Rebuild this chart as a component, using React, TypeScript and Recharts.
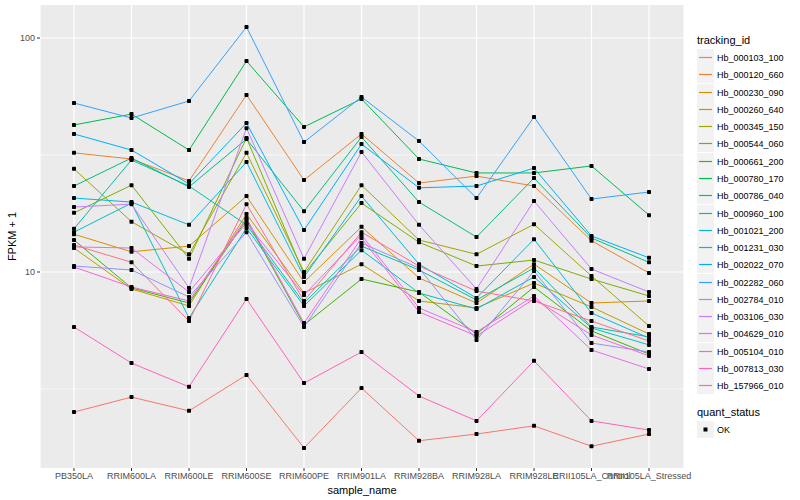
import React from "react";
import { LineChart, Line, XAxis, YAxis, CartesianGrid } from "recharts";

const samples = [
  "PB350LA",
  "RRIM600LA",
  "RRIM600LE",
  "RRIM600SE",
  "RRIM600PE",
  "RRIM901LA",
  "RRIM928BA",
  "RRIM928LA",
  "RRIM928LE",
  "RRII105LA_Control",
  "RRII105LA_Stressed",
];

// FPKM + 1, one array per tracking_id, in sample order
const hb000103_100 = [2.52, 2.92, 2.55, 3.63, 1.77, 3.19, 1.9, 2.03, 2.2, 1.8, 2.03];
const hb000120_660 = [32.3, 30.4, 24.5, 57.1, 24.7, 38.9, 24.0, 25.7, 23.3, 13.6, 9.9];
const hb000230_090 = [14.5, 12.2, 12.9, 21.1, 9.06, 15.6, 9.43, 7.37, 10.8, 7.37, 7.52];
const hb000260_640 = [12.66, 8.46, 7.16, 17.7, 8.13, 10.8, 7.52, 7.02, 8.97, 7.09, 5.43];
const hb000345_150 = [27.6, 16.4, 11.9, 32.3, 10.0, 23.5, 13.7, 11.9, 16.0, 9.61, 5.88];
const hb000544_060 = [17.9, 23.5, 11.4, 37.4, 9.8, 19.7, 13.4, 10.6, 11.25, 9.33, 7.9];
const hb000661_200 = [13.7, 8.55, 7.37, 16.7, 5.94, 9.33, 8.21, 5.43, 8.63, 5.6, 4.46];
const hb000780_170 = [42.5, 47.3, 33.2, 79.7, 41.7, 54.9, 30.4, 26.5, 26.5, 28.4, 17.5];
const hb000786_040 = [23.3, 30.7, 23.1, 37.0, 18.2, 37.75, 19.9, 14.1, 25.2, 13.97, 11.0];
const hb000960_100 = [15.3, 30.1, 23.3, 15.9, 7.37, 12.9, 10.2, 7.59, 10.4, 5.82, 5.28];
const hb001021_200 = [14.8, 19.7, 6.36, 15.4, 7.16, 12.4, 8.13, 6.95, 9.52, 5.76, 4.88];
const hb001231_030 = [20.7, 19.9, 15.9, 29.5, 9.52, 21.1, 10.8, 7.74, 13.8, 6.68, 5.22];
const hb002022_070 = [38.9, 33.2, 23.8, 43.3, 15.1, 35.2, 22.9, 23.3, 27.8, 14.25, 11.5];
const hb002282_060 = [52.75, 45.5, 53.8, 111.4, 35.9, 55.96, 36.3, 20.7, 45.97, 20.5, 21.97];
const hb002784_010 = [10.6, 10.2, 7.82, 14.8, 5.82, 13.3, 10.4, 5.12, 10.1, 4.97, 4.55];
const hb003106_030 = [18.95, 19.5, 8.55, 41.2, 11.4, 32.6, 15.9, 8.46, 20.1, 10.3, 8.21];
const hb004629_010 = [12.8, 12.66, 8.21, 16.2, 7.97, 14.4, 7.02, 5.54, 7.9, 4.64, 3.85];
const hb005104_010 = [10.5, 8.63, 7.52, 17.0, 6.05, 13.97, 6.75, 5.33, 7.67, 5.38, 4.38];
const hb007813_030 = [5.82, 4.08, 3.23, 7.67, 3.35, 4.55, 2.95, 2.31, 4.17, 2.31, 2.11];
const hb157966_010 = [13.04, 11.0, 6.17, 19.5, 7.52, 14.8, 10.6, 8.29, 7.52, 6.17, 5.07];

const series = [
  { id: "Hb_000103_100", color: "#F8766D", values: hb000103_100 },
  { id: "Hb_000120_660", color: "#EA8331", values: hb000120_660 },
  { id: "Hb_000230_090", color: "#D89000", values: hb000230_090 },
  { id: "Hb_000260_640", color: "#C09B00", values: hb000260_640 },
  { id: "Hb_000345_150", color: "#A3A500", values: hb000345_150 },
  { id: "Hb_000544_060", color: "#7CAE00", values: hb000544_060 },
  { id: "Hb_000661_200", color: "#39B600", values: hb000661_200 },
  { id: "Hb_000780_170", color: "#00BB4E", values: hb000780_170 },
  { id: "Hb_000786_040", color: "#00BF7D", values: hb000786_040 },
  { id: "Hb_000960_100", color: "#00C1A3", values: hb000960_100 },
  { id: "Hb_001021_200", color: "#00BFC4", values: hb001021_200 },
  { id: "Hb_001231_030", color: "#00BAE0", values: hb001231_030 },
  { id: "Hb_002022_070", color: "#00B0F6", values: hb002022_070 },
  { id: "Hb_002282_060", color: "#35A2FF", values: hb002282_060 },
  { id: "Hb_002784_010", color: "#9590FF", values: hb002784_010 },
  { id: "Hb_003106_030", color: "#C77CFF", values: hb003106_030 },
  { id: "Hb_004629_010", color: "#E76BF3", values: hb004629_010 },
  { id: "Hb_005104_010", color: "#FA62DB", values: hb005104_010 },
  { id: "Hb_007813_030", color: "#FF62BC", values: hb007813_030 },
  { id: "Hb_157966_010", color: "#FF6C91", values: hb157966_010 },
];

const yTicks = [10, 100];
const yMinor = [3.1623, 31.623];

const data = samples.map((s, i) => {
  const row: Record<string, string | number> = { sample: s };
  series.forEach((sr) => {
    row[sr.id] = sr.values[i];
  });
  return row;
});

const FONT = "'Liberation Sans', Arial, sans-serif";

const SquareDot = (props: any) => {
  const { cx, cy } = props;
  if (cx == null || cy == null) return null;
  return <rect x={cx - 2} y={cy - 2} width={4} height={4} rx={0.8} fill="#000" />;
};

export default function App() {
  return (
    <div
      style={{
        position: "absolute",
        left: 0,
        top: 0,
        width: 800,
        height: 500,
        background: "#fff",
        fontFamily: FONT,
      }}
    >
      <LineChart
        width={800}
        height={500}
        data={data}
        margin={{ top: 5, right: 116, bottom: 0, left: 0 }}
      >
        <CartesianGrid
          fill="#EBEBEB"
          stroke="#fff"
          strokeWidth={0.6}
          vertical={false}
          horizontalValues={yMinor}
        />
        <CartesianGrid
          stroke="#fff"
          strokeWidth={1.2}
          horizontalValues={yTicks}
        />
        <XAxis
          dataKey="sample"
          interval={0}
          height={32}
          axisLine={false}
          tickSize={3}
          tickLine={{ stroke: "#333" }}
          padding={{ left: 34, right: 35 }}
          tick={{ fontSize: 9, fill: "#4D4D4D", fontFamily: FONT }}
          label={{
            value: "sample_name",
            position: "insideBottom",
            offset: 6,
            style: { fontSize: 11, fill: "#000", fontFamily: FONT },
          }}
        />
        <YAxis
          type="number"
          scale="log"
          domain={[1.453, 138.4]}
          allowDataOverflow
          ticks={yTicks}
          width={40}
          axisLine={false}
          tickSize={3}
          tickLine={{ stroke: "#333" }}
          tick={{ fontSize: 9, fill: "#4D4D4D", fontFamily: FONT }}
          label={{
            value: "FPKM + 1",
            angle: -90,
            position: "insideLeft",
            offset: 12,
            style: { textAnchor: "middle", fontSize: 11, fill: "#000", fontFamily: FONT },
          }}
        />
        {series.map((sr) => (
          <Line
            key={sr.id}
            type="linear"
            dataKey={sr.id}
            stroke={sr.color}
            strokeWidth={1}
            dot={false}
            activeDot={false}
            isAnimationActive={false}
          />
        ))}
        {series.map((sr) => (
          <Line
            key={sr.id + "_pt"}
            type="linear"
            dataKey={sr.id}
            stroke="none"
            dot={<SquareDot />}
            activeDot={false}
            legendType="none"
            isAnimationActive={false}
          />
        ))}
      </LineChart>

      <div style={{ position: "absolute", left: 697, top: 33, fontSize: 11, lineHeight: "14px" }}>
        tracking_id
      </div>
      {series.map((sr, i) => (
        <div
          key={sr.id}
          style={{
            position: "absolute",
            left: 697,
            top: Math.round(49 + i * 17.28),
            height: 17,
            display: "flex",
            alignItems: "center",
          }}
        >
          <svg width={17} height={17} style={{ display: "block" }}>
            <rect x={0} y={0} width={17} height={17} fill="#F2F2F2" />
            <line x1={2} x2={15} y1={8.5} y2={8.5} stroke={sr.color} strokeWidth={1.2} />
          </svg>
          <span style={{ marginLeft: 3, fontSize: 9, color: "#000" }}>{sr.id}</span>
        </div>
      ))}

      <div style={{ position: "absolute", left: 697, top: 405, fontSize: 11, lineHeight: "14px" }}>
        quant_status
      </div>
      <div
        style={{
          position: "absolute",
          left: 697,
          top: 421,
          height: 17,
          display: "flex",
          alignItems: "center",
        }}
      >
        <svg width={17} height={17} style={{ display: "block" }}>
          <rect x={0} y={0} width={17} height={17} fill="#F2F2F2" />
          <rect x={6.5} y={6.5} width={4} height={4} fill="#000" />
        </svg>
        <span style={{ marginLeft: 3, fontSize: 9, color: "#000" }}>OK</span>
      </div>
    </div>
  );
}
